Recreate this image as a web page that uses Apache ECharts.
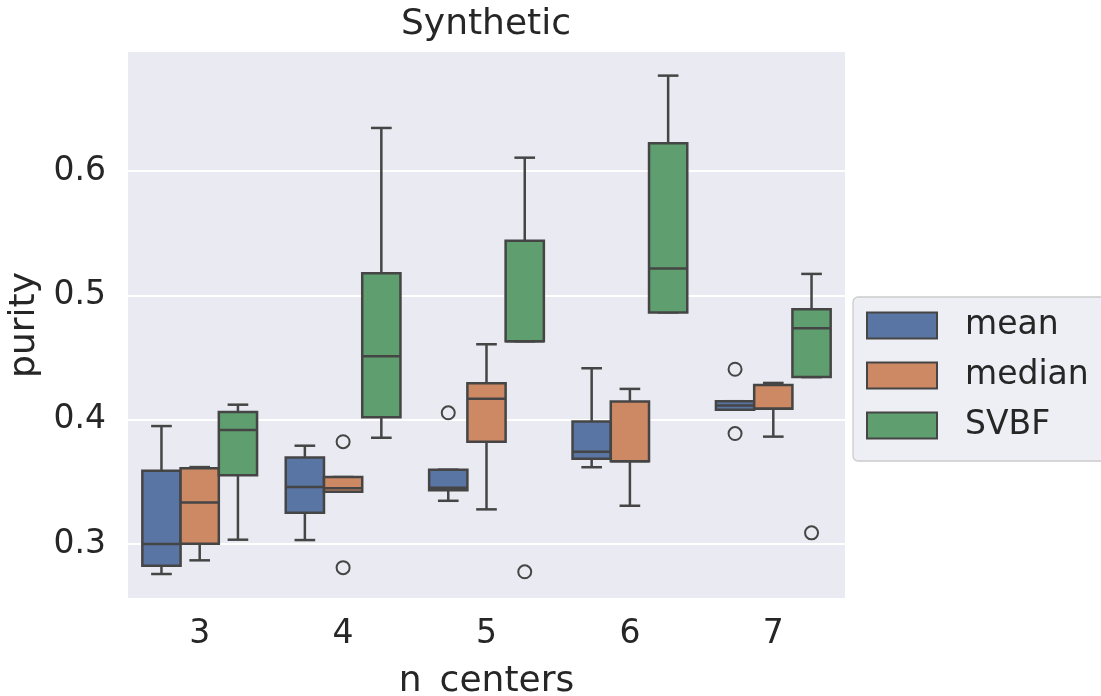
<!DOCTYPE html>
<html>
<head>
<meta charset="utf-8">
<title>Synthetic</title>
<script src="https://cdn.jsdelivr.net/npm/echarts@6/dist/echarts.min.js"></script>
<style>
  html, body { margin: 0; padding: 0; background: #ffffff; }
  #chart { width: 1101px; height: 696px; }
</style>
</head>
<body>
<div id="chart"></div>
<script>
// Purity per number of centers, one box per method.
const categories = ['3', '4', '5', '6', '7'];
const hues = ['mean', 'median', 'SVBF'];
const yTicks = [0.3, 0.4, 0.5, 0.6];

// Each row: [low whisker, Q1, median, Q3, high whisker]
const meanBoxes = [
  [0.2759, 0.2826, 0.3000, 0.3590, 0.3949],
  [0.3032, 0.3252, 0.3459, 0.3697, 0.3791],
  [0.3348, 0.3432, 0.3453, 0.3598, 0.3598],
  [0.3618, 0.3686, 0.3742, 0.3985, 0.4414],
  [0.4081, 0.4081, 0.4115, 0.4149, 0.4149]
];
const medianBoxes = [
  [0.2869, 0.3002, 0.3335, 0.3609, 0.3619],
  [0.3421, 0.3421, 0.3448, 0.3539, 0.3539],
  [0.3279, 0.3823, 0.4169, 0.4293, 0.4607],
  [0.3308, 0.3666, 0.3666, 0.4146, 0.4248],
  [0.3864, 0.4089, 0.4089, 0.4279, 0.4296]
];
const svbfBoxes = [
  [0.3035, 0.3553, 0.3917, 0.4062, 0.4121],
  [0.3855, 0.4019, 0.4510, 0.5178, 0.6347],
  [0.4631, 0.4631, 0.4631, 0.5440, 0.6108],
  [0.4863, 0.4863, 0.5216, 0.6223, 0.6768],
  [0.4343, 0.4343, 0.4736, 0.4888, 0.5173]
];

// Outliers: [category index, value]
const meanOutliers = [[2, 0.4056], [4, 0.4406], [4, 0.3889]];
const medianOutliers = [[1, 0.3823], [1, 0.2810]];
const svbfOutliers = [[2, 0.2777], [4, 0.3090]];

const FILLS = ['#5875A4', '#CC8963', '#5F9E6E'];
const EDGE = '#454545';
const LW = 2.5;
const FONT = 'DejaVu Sans';
const TEXT = '#262626';

const boxSets = [meanBoxes, medianBoxes, svbfBoxes];
const outlierSets = [meanOutliers, medianOutliers, svbfOutliers];

// Horizontal centre and width of one hue's box inside a category band
function hueCenter(api, cat, hueIndex) {
  const band = api.size([1, 0])[0];
  const w = band * 0.8 / hues.length;
  const x = api.coord([cat, api.value(1)])[0] + (hueIndex - (hues.length - 1) / 2) * w;
  return { x: x, w: w };
}

function boxRenderer(hueIndex) {
  return function (params, api) {
    const cat = api.value(0);
    const c = hueCenter(api, cat, hueIndex);
    const y = function (i) { return api.coord([cat, api.value(i)])[1]; };
    const lo = y(1), q1 = y(2), md = y(3), q3 = y(4), hi = y(5);
    const cap = c.w * 0.27;
    const half = c.w / 2;
    const ls = { stroke: EDGE, lineWidth: LW, lineCap: 'butt' };
    return {
      type: 'group',
      children: [
        { type: 'line', shape: { x1: c.x, y1: q3, x2: c.x, y2: hi }, style: ls },
        { type: 'line', shape: { x1: c.x, y1: q1, x2: c.x, y2: lo }, style: ls },
        { type: 'line', shape: { x1: c.x - cap, y1: hi, x2: c.x + cap, y2: hi }, style: ls },
        { type: 'line', shape: { x1: c.x - cap, y1: lo, x2: c.x + cap, y2: lo }, style: ls },
        {
          type: 'rect',
          shape: { x: c.x - half, y: q3, width: c.w, height: q1 - q3 },
          style: { fill: FILLS[hueIndex], stroke: EDGE, lineWidth: LW }
        },
        { type: 'line', shape: { x1: c.x - half, y1: md, x2: c.x + half, y2: md }, style: ls }
      ]
    };
  };
}

function outlierRenderer(hueIndex) {
  return function (params, api) {
    const cat = api.value(0);
    const c = hueCenter(api, cat, hueIndex);
    const p = api.coord([cat, api.value(1)]);
    return {
      type: 'circle',
      shape: { cx: c.x, cy: p[1], r: 6.5 },
      style: { fill: 'transparent', stroke: EDGE, lineWidth: 2 }
    };
  };
}

const series = [];
hues.forEach(function (name, i) {
  series.push({
    name: name,
    type: 'custom',
    renderItem: boxRenderer(i),
    itemStyle: { color: FILLS[i] },
    encode: { x: 0, y: [1, 2, 3, 4, 5] },
    data: boxSets[i].map(function (row, k) { return [k].concat(row); }),
    silent: true
  });
});
hues.forEach(function (name, i) {
  series.push({
    name: name + ' outliers',
    type: 'custom',
    renderItem: outlierRenderer(i),
    encode: { x: 0, y: 1 },
    data: outlierSets[i],
    silent: true
  });
});

const chart = echarts.init(document.getElementById('chart'), null, { renderer: 'canvas' });
chart.setOption({
  animation: false,
  backgroundColor: '#ffffff',
  title: {
    text: 'Synthetic',
    left: 481,
    top: 2,
    textAlign: 'center',
    textStyle: { fontFamily: FONT, fontSize: 36, fontWeight: 'normal', color: TEXT }
  },
  legend: {
    orient: 'vertical',
    left: 853,
    top: 297,
    icon: 'rect',
    itemWidth: 70,
    itemHeight: 26,
    itemGap: 17,
    padding: [12, 40, 19, 13],
    backgroundColor: '#EEEEF5',
    borderColor: '#CCCCCC',
    borderWidth: 1.3,
    borderRadius: 5,
    selectedMode: false,
    textStyle: { fontFamily: FONT, fontSize: 33, color: TEXT, padding: [0, 0, 0, 23] },
    data: hues.map(function (h, i) {
      return { name: h, itemStyle: { color: FILLS[i], borderColor: EDGE, borderWidth: 2 } };
    })
  },
  grid: {
    left: 128,
    top: 52,
    width: 717,
    height: 546,
    outerBoundsMode: 'none',
    containLabel: false,
    show: true,
    backgroundColor: '#EAEAF2',
    borderWidth: 0
  },
  xAxis: {
    type: 'category',
    data: categories,
    name: 'n_centers',
    nameLocation: 'middle',
    nameGap: 66,
    nameTextStyle: { fontFamily: FONT, fontSize: 36, color: TEXT },
    axisLine: { show: false },
    axisTick: { show: false },
    splitLine: { show: false },
    axisLabel: { fontFamily: FONT, fontSize: 33, color: TEXT, margin: 20 }
  },
  yAxis: {
    type: 'value',
    min: 0.2566,
    max: 0.6958,
    name: 'purity',
    nameLocation: 'middle',
    nameGap: 83,
    nameTextStyle: { fontFamily: FONT, fontSize: 36, color: TEXT },
    axisLine: { show: false },
    axisTick: { show: false, customValues: yTicks },
    axisLabel: {
      fontFamily: FONT, fontSize: 33, color: TEXT, margin: 22,
      customValues: yTicks,
      formatter: function (v) { return v.toFixed(1); }
    },
    splitLine: { show: true, lineStyle: { color: '#ffffff', width: 2.2 } }
  },
  series: series
});
</script>
</body>
</html>
